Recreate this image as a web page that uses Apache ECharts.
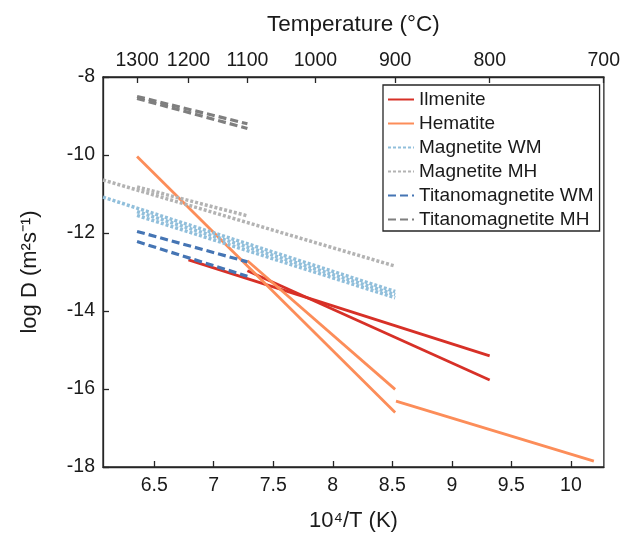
<!DOCTYPE html>
<html><head><meta charset="utf-8">
<script src="https://cdn.jsdelivr.net/npm/echarts@6/dist/echarts.min.js"></script>
<style>html,body{margin:0;padding:0;background:#fff}#c{width:623px;height:537px}</style>
</head><body><div id="c"></div>
<script>
// ---- data ----
const bottomTicks = [6.5, 7, 7.5, 8, 8.5, 9, 9.5, 10];
const topTempsC = [1300, 1200, 1100, 1000, 900, 800, 700];
const xRange = [6.07, 10.277];
const yRange = [-18, -8];
const ilmenite = [[[6.788, -12.69], [9.318, -15.15]], [[7.283, -12.97], [9.318, -15.77]]];
const hematite = [[[6.356, -10.04], [8.524, -16.60]], [[7.283, -12.71], [8.524, -16.01]], [[8.531, -16.31], [10.193, -17.85]]];
const magnetiteWM = [[[6.07, -11.08], [8.524, -13.50]], [[6.356, -11.45], [8.524, -13.58]], [[6.356, -11.55], [8.524, -13.66]]];
const magnetiteMH = [[[6.07, -10.64], [8.524, -12.85]], [[6.356, -10.82], [7.283, -11.56]]];
const titanoWM = [[[6.356, -11.96], [7.283, -12.74]], [[6.356, -12.22], [7.283, -13.11]]];
const titanoMH = [[[6.356, -8.50], [7.283, -9.20]], [[6.356, -8.55], [7.283, -9.32]]];

const FONT = 'Liberation Sans, Arial, Helvetica, sans-serif';
const AX = '#262626';
const TXT = '#1a1a1a';

const groups = [
  {name: 'Ilmenite', segs: ilmenite, color: '#d73027', width: 2.8, type: 'solid'},
  {name: 'Hematite', segs: hematite, color: '#fc8d59', width: 2.8, type: 'solid'},
  {name: 'Magnetite WM', segs: magnetiteWM, color: '#91bfdb', width: 3.5, type: [3, 2]},
  {name: 'Magnetite MH', segs: magnetiteMH, color: '#b3b3b3', width: 3.5, type: [3, 2]},
  {name: 'Titanomagnetite WM', segs: titanoWM, color: '#4575b4', width: 3.2, type: [8, 4]},
  {name: 'Titanomagnetite MH', segs: titanoMH, color: '#7f7f7f', width: 3.2, type: [8, 4]}
];

const series = [];
groups.forEach(g => {
  g.segs.forEach(seg => {
    series.push({
      type: 'line', name: g.name, data: seg, symbol: 'none', silent: true,
      color: g.color,
      lineStyle: {color: g.color, width: g.width, type: g.type, cap: 'butt'},
      xAxisIndex: 0, yAxisIndex: 0, animation: false
    });
  });
});

const topVals = topTempsC.map(t => 1e4 / (t + 273.15));

const chart = echarts.init(document.getElementById('c'), null, {renderer: 'canvas'});
chart.setOption({
  animation: false,
  backgroundColor: '#fff',
  textStyle: {fontFamily: FONT},
  grid: {left: 103, right: 14, top: 77, bottom: 68, show: true, borderColor: AX, borderWidth: 1.3, containLabel: false},
  legend: {
    data: groups.map(g => g.name),
    orient: 'vertical', left: 383, top: 85,
    itemWidth: 26, itemHeight: 14, itemGap: 5,
    padding: [5, 6, 2, 4],
    borderColor: AX, borderWidth: 1.3, backgroundColor: '#fff',
    itemStyle: {opacity: 0},
    textStyle: {fontSize: 19, color: TXT, fontFamily: FONT},
    selectedMode: false
  },
  xAxis: [
    {
      type: 'value', position: 'bottom', min: xRange[0], max: xRange[1],
      name: '10⁴/T (K)', nameLocation: 'middle', nameGap: 43,
      nameTextStyle: {fontSize: 22, color: TXT, fontFamily: FONT},
      axisLine: {show: true, lineStyle: {color: AX, width: 1.3}},
      axisTick: {show: true, inside: true, length: 6, lineStyle: {color: AX, width: 1.3}, customValues: bottomTicks},
      axisLabel: {fontSize: 19.5, color: TXT, margin: 9, fontFamily: FONT, customValues: bottomTicks,
        formatter: v => String(+v.toFixed(2))},
      splitLine: {show: false}
    },
    {
      type: 'value', position: 'top', min: xRange[0], max: xRange[1],
      name: 'Temperature (°C)', nameLocation: 'middle', nameGap: 41,
      nameTextStyle: {fontSize: 22.5, color: TXT, fontFamily: FONT},
      axisLine: {show: true, lineStyle: {color: AX, width: 1.3}},
      axisTick: {show: true, inside: true, length: 6, lineStyle: {color: AX, width: 1.3}, customValues: topVals},
      axisLabel: {fontSize: 19.5, color: TXT, margin: 6, fontFamily: FONT, customValues: topVals,
        formatter: v => String(Math.round(1e4 / v - 273.15))},
      splitLine: {show: false}
    }
  ],
  yAxis: [
    {
      type: 'value', position: 'left', min: yRange[0], max: yRange[1], interval: 2,
      name: 'log D (m²s⁻¹)', nameLocation: 'middle', nameGap: 62,
      nameTextStyle: {fontSize: 22, color: TXT, fontFamily: FONT},
      axisLine: {show: true, lineStyle: {color: AX, width: 1.3}},
      axisTick: {show: true, inside: true, length: 6, lineStyle: {color: AX, width: 1.3}},
      axisLabel: {fontSize: 19.5, color: TXT, margin: 8, fontFamily: FONT},
      splitLine: {show: false}
    }
  ],
  series: series
});
</script></body></html>
